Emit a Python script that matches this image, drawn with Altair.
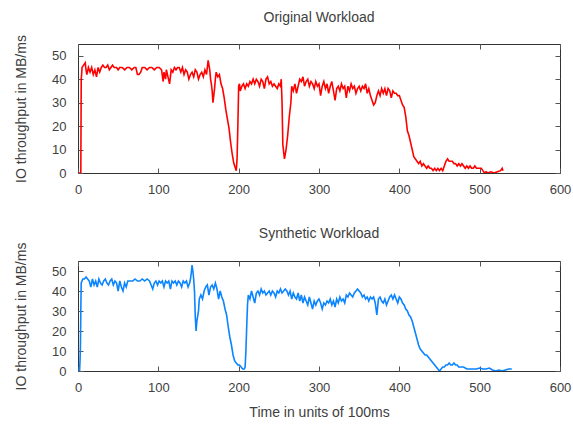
import altair as alt
import pandas as pd

# ---------------- data ----------------
orig_t = [0, 3.5, 4, 4.5, 5, 7, 9, 10, 11, 13, 15, 17, 19, 21, 23, 25, 27, 29, 31, 33, 35, 37, 39, 41, 43, 45,
          48, 50, 52, 55, 58, 61, 64, 67, 70, 72, 74, 76, 78, 80, 83, 86, 89, 92, 95, 98, 101, 104, 106, 107,
          109, 110, 112, 114, 116, 118, 120, 122, 124, 126, 128, 130, 132, 134, 136, 138, 140, 142, 144, 146,
          148, 150, 152, 154, 156, 158, 160, 162, 163, 164, 165, 166, 167, 168, 169, 170, 171, 172, 174, 176,
          178, 180, 182, 184, 186, 188, 190, 192, 194, 196, 197, 198, 199, 200, 201, 202, 204, 206, 208, 210,
          212, 214, 216, 218, 220, 222, 224, 226, 228, 230, 232, 234, 236, 238, 240, 242, 244, 246, 248, 250,
          252, 253, 254, 255, 257, 259, 261, 263, 265, 266, 268, 270, 272, 274, 276, 278, 280, 282, 284, 286,
          288, 290, 292, 294, 296, 298, 300, 302, 304, 306, 308, 310, 312, 314, 316, 318, 320, 322, 324, 326,
          328, 330, 332, 334, 336, 338, 340, 342, 344, 346, 348, 350, 352, 354, 356, 358, 360, 362, 364, 366,
          368, 370, 372, 374, 376, 378, 380, 382, 384, 386, 388, 390, 392, 394, 396, 398, 400, 402, 404, 406,
          408, 410, 412, 414, 416, 418, 420, 422, 424, 426, 428, 430, 432, 434, 436, 438, 440, 442, 444, 446,
          448, 450, 452, 454, 456, 458, 460, 462, 464, 466, 468, 470, 472, 474, 476, 478, 480, 482, 484, 486,
          488, 490, 492, 494, 496, 498, 500, 502, 504, 506, 508, 510, 514, 518, 522, 526, 528, 529]
orig_v = [0, 0, 40, 42, 45, 46, 47, 44, 42, 45, 43, 45, 42, 44, 41, 45, 43, 45, 46, 45, 45, 46, 44, 45, 46, 45,
          45, 44, 45, 45, 44, 45, 45, 44, 45, 45, 42, 42, 43, 45, 45, 44, 45, 45, 44, 45, 45, 44, 39, 43,
          40, 44, 41, 38, 44, 43, 45, 44, 45, 45, 43, 45, 42, 44, 43, 40, 42, 43, 41, 44,
          43, 40, 42, 43, 41, 44, 42, 48, 46, 44, 40, 38, 35, 30, 33, 36, 40, 43, 41, 42,
          38, 36, 32, 27, 23, 19, 13, 8, 4, 2, 1, 6, 20, 37, 38, 35, 37, 38, 36, 38,
          37, 39, 38, 40, 38, 40, 39, 37, 40, 39, 36, 40, 41, 38, 39, 37, 38, 37, 36, 38,
          37, 40, 30, 12, 6, 10, 16, 24, 30, 37, 35, 38, 34, 37, 40, 39, 41, 37, 39, 40,
          37, 39, 38, 36, 39, 37, 38, 33, 37, 39, 36, 38, 34, 37, 39, 35, 31, 36, 37, 35,
          38, 36, 37, 32, 37, 35, 38, 36, 37, 34, 36, 37, 35, 37, 36, 38, 34, 36, 33, 31,
          29, 30, 33, 35, 33, 36, 34, 36, 33, 36, 35, 32, 35, 34, 34, 33, 33, 31, 29, 28,
          24, 18, 16, 13, 10, 7, 6, 5, 4, 5, 3, 4, 3, 2, 3, 2, 2, 1, 2, 1,
          2, 1, 2, 1, 3, 5, 6, 5, 5, 5, 4, 4, 3, 4, 3, 4, 3, 2, 3, 2,
          3, 2, 2, 3, 2, 2, 2, 2, 1, 0, 0.5, 0, 0.5, 0, 0.5, 1, 2, 1]

syn_t = [0, 2, 2.5, 3, 3.5, 4, 6, 8, 10, 12, 14, 16, 18, 20, 22, 24, 26, 28, 30, 32, 34, 36, 38, 40, 42, 44,
         46, 48, 50, 52, 54, 56, 58, 60, 62, 65, 68, 71, 74, 77, 80, 83, 86, 89, 91, 93, 95, 97, 99, 101,
         103, 105, 107, 109, 111, 113, 115, 117, 119, 121, 123, 125, 127, 129, 131, 133, 135, 137, 139, 140,
         141, 142, 143, 144, 145, 146, 147, 148, 150, 151, 153, 155, 157, 159, 161, 163, 165, 167, 169, 171,
         173, 175, 177, 179, 181, 183, 185, 187, 189, 191, 193, 195, 197, 199, 201, 203, 205, 207, 208, 209,
         210, 211, 212, 214, 216, 218, 220, 222, 224, 226, 228, 230, 232, 234, 236, 238, 240, 242, 244, 246,
         248, 250, 252, 254, 256, 258, 260, 262, 264, 266, 268, 270, 272, 274, 276, 278, 280, 282, 284, 286,
         288, 290, 292, 294, 296, 298, 300, 302, 304, 306, 308, 310, 312, 314, 316, 318, 320, 322, 324, 326,
         328, 330, 332, 334, 336, 338, 340, 342, 344, 346, 348, 350, 352, 354, 356, 358, 360, 362, 364, 366,
         368, 370, 372, 374, 376, 378, 380, 382, 384, 386, 388, 390, 392, 394, 396, 398, 400, 402, 404, 406,
         408, 410, 412, 414, 416, 418, 420, 422, 424, 426, 428, 430, 432, 434, 436, 438, 440, 442, 444, 446,
         448, 450, 452, 454, 456, 458, 460, 462, 464, 466, 468, 470, 472, 474, 476, 478, 480, 484, 488, 492,
         496, 500, 504, 508, 512, 516, 520, 524, 528, 532, 536, 540]
syn_v = [0, 0, 5, 12, 30, 44, 46, 46, 47, 46, 45, 42, 46, 43, 45, 42, 46, 44, 43, 45, 46, 44, 43, 45, 46, 43,
         45, 44, 40, 45, 42, 40, 44, 42, 45, 45, 45, 46, 45, 45, 46, 45, 46, 45, 43, 41, 44, 45, 43, 45,
         44, 45, 42, 45, 44, 45, 41, 45, 44, 45, 43, 45, 44, 42, 45, 44, 45, 42, 44, 46,
         49, 53, 50, 46, 40, 27, 20, 25, 30, 36, 38, 36, 40, 42, 43, 38, 42, 43, 41, 44,
         41, 36, 40, 37, 35, 31, 28, 22, 17, 13, 8, 5, 4, 3, 3, 2, 1, 1, 2, 10,
         22, 33, 38, 36, 40, 37, 34, 39, 40, 38, 41, 39, 40, 38, 39, 40, 38, 40, 39, 37,
         40, 39, 41, 39, 40, 41, 40, 38, 40, 36, 39, 37, 36, 39, 35, 38, 34, 37, 35, 33,
         37, 34, 31, 35, 33, 35, 36, 34, 31, 34, 33, 35, 34, 36, 33, 35, 32, 36, 34, 37,
         35, 36, 34, 38, 37, 39, 38, 37, 39, 40, 41, 40, 39, 37, 38, 36, 37, 35, 37, 36,
         37, 34, 28, 36, 37, 35, 34, 36, 33, 35, 37, 38, 36, 38, 36, 34, 37, 36, 34, 33,
         31, 30, 28, 27, 25, 22, 19, 16, 13, 11, 10, 9, 8, 8, 7, 6, 5, 4, 3, 2,
         1, 0, 1, 2, 2, 3, 3, 4, 3, 3, 4, 3, 3, 2, 2, 2, 2, 1, 1, 1,
         1, 1.5, 1, 1, 1.5, 0.5, 0, 0.5, 0, 0.5, 1, 1]

x_ticks = [0, 100, 200, 300, 400, 500, 600]
y_ticks = [0, 10, 20, 30, 40, 50]

FONT = "Liberation Sans"
TXT = "#404040"
TICK = 5


def panel(t, v, color, title, height, xtitle, title_offset):
    df = pd.DataFrame({"t": t, "v": v})
    xs = alt.Scale(domain=[0, 600], nice=False, zero=False)
    ys = alt.Scale(domain=[0, 55], nice=False, zero=False)
    main = alt.Chart(df).mark_line(color=color, strokeWidth=1.6, clip=True).encode(
        x=alt.X("t:Q", scale=xs, axis=alt.Axis(
            values=x_ticks, orient="bottom", offset=-TICK, tickSize=TICK, domain=False,
            grid=False, labelPadding=10, labelFlush=False, labelFontSize=13, labelFont=FONT,
            labelColor=TXT, tickColor="#555555",
            title=xtitle if xtitle else "", titleFont=FONT, titleFontSize=14,
            titleFontWeight="normal", titleColor=TXT, titlePadding=11)),
        y=alt.Y("v:Q", scale=ys, axis=alt.Axis(
            values=y_ticks, orient="left", offset=-TICK, tickSize=TICK, domain=False,
            grid=False, labelPadding=12, labelFontSize=13, labelFont=FONT, labelColor=TXT,
            tickColor="#555555",
            title="IO throughput in MB/ms", titleFont=FONT, titleFontSize=14,
            titleFontWeight="normal", titleColor=TXT, titlePadding=23)),
    )
    ghost = alt.Chart(df).mark_line(opacity=0).encode(
        x=alt.X("t:Q", scale=xs, axis=alt.Axis(
            values=x_ticks, orient="top", offset=-TICK, tickSize=TICK, domain=False,
            grid=False, labels=False, title=None, tickColor="#555555")),
        y=alt.Y("v:Q", scale=ys, axis=alt.Axis(
            values=y_ticks, orient="right", offset=-TICK, tickSize=TICK, domain=False,
            grid=False, labels=False, title=None, tickColor="#555555")),
    )
    return alt.layer(main, ghost).resolve_axis(x="independent", y="independent").properties(
        width=482, height=height,
        title=alt.TitleParams(title, font=FONT, fontSize=14, fontWeight="normal",
                              color=TXT, offset=title_offset, anchor="middle", frame="group"),
    )


top = panel(orig_t, orig_v, "#ff0000", "Original Workload", 129, None, 10)
bottom = panel(syn_t, syn_v, "#0a84ff", "Synthetic Workload", 110, "Time in units of 100ms", 1)

chart = alt.vconcat(top, bottom, spacing=29).properties(
    padding={"left": 14, "top": 10, "right": 0, "bottom": 2},
    background="white",
).configure_view(stroke="#333333", strokeWidth=1)

chart.save("out.html", embed_options={"renderer": "svg", "actions": False})
